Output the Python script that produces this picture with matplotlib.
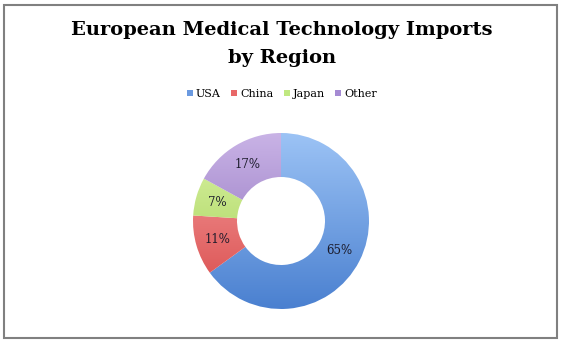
import numpy as np
import matplotlib.pyplot as plt
from matplotlib.patches import Rectangle, Patch
from matplotlib.colors import LinearSegmentedColormap

regions = ['USA', 'China', 'Japan', 'Other']
shares = [65, 11, 7, 17]
# top (light) and bottom (dark) shade of each slice
tops = ['#9cc3f5', '#f7a3a3', '#def5a8', '#c9b3e6']
bottoms = ['#4a80d0', '#d84848', '#9ccc4e', '#8465b5']
legend_colors = ['#6b9ae0', '#e86868', '#c0e880', '#a58ad3']

serif = 'DejaVu Serif'

fig = plt.figure(figsize=(5.64, 3.46), dpi=100)
fig.patches.append(Rectangle((4 / 564, 1 - 338 / 346), 553 / 564, 333 / 346,
                             transform=fig.transFigure, fill=False,
                             edgecolor='#808080', linewidth=1.5))

fig.text(0.5, 1 - 30 / 346, 'European Medical Technology Imports',
         ha='center', va='center', fontsize=14, fontweight='bold', family=serif)
fig.text(0.5, 1 - 58 / 346, 'by Region',
         ha='center', va='center', fontsize=14, fontweight='bold', family=serif)

# donut axes, centred on the hole
cx, cy, r = 281 / 564, 1 - 221 / 346, 88
ax = fig.add_axes([cx - r / 564, cy - r / 346, 2 * r / 564, 2 * r / 346])
wedges, _ = ax.pie(shares, startangle=90, counterclock=False,
                   radius=1.0, wedgeprops=dict(width=0.5, linewidth=0))
ax.set_xlim(-1, 1)
ax.set_ylim(-1, 1)
ax.set_aspect('auto')
ax.axis('off')

grad = np.linspace(1, 0, 256).reshape(-1, 1)
for w, top, bot in zip(wedges, tops, bottoms):
    w.set_facecolor('none')
    cmap = LinearSegmentedColormap.from_list('g', [bot, top])
    im = ax.imshow(grad, cmap=cmap, extent=[-1, 1, -1, 1], origin='upper',
                   aspect='auto', zorder=1)
    im.set_clip_path(w)

# percentage labels at the middle of each ring segment
start = 90.0
for s in shares:
    mid = np.deg2rad(start - s * 360 / 100 / 2)
    start -= s * 360 / 100
    ax.text(0.75 * np.cos(mid), 0.75 * np.sin(mid), f'{s}%',
            ha='center', va='center', fontsize=8.5,
            family=serif, color='#1a1a2a', zorder=3)

handles = [Patch(facecolor=c, edgecolor='none') for c in legend_colors]
fig.legend(handles, regions, loc='center', bbox_to_anchor=(0.5, 1 - 94 / 346),
           ncol=4, frameon=False, prop={'family': serif, 'size': 8},
           handlelength=0.55, handleheight=0.55, handletextpad=0.3,
           columnspacing=0.9)

fig.savefig('out.png', dpi=100)
